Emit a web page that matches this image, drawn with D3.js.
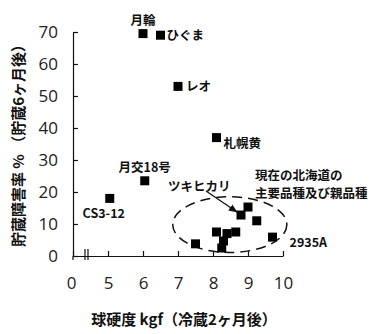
<!DOCTYPE html>
<html>
<head>
<meta charset="utf-8">
<script src="https://cdn.jsdelivr.net/npm/d3@7"></script>
<style>
  body { margin: 0; background: #fff; }
  svg { display: block; }
  .tick text { font-family: "Open Sans", sans-serif; font-size: 17px; fill: #222; }
  .lbl { font-family: "Noto Sans CJK JP", sans-serif; font-size: 12.5px; font-weight: bold; fill: #111; }
  .title { font-family: "Noto Sans CJK JP", sans-serif; font-size: 15px; font-weight: bold; fill: #111; }
</style>
</head>
<body>
<div id="chart"></div>
<script>
var names = ["月輪", "ひぐま", "レオ", "札幌黄", "月交18号", "CS3-12", "ツキヒカリ",
  "", "", "", "", "", "", "", "", "2935A"];
var hardness = [6.0, 6.5, 7.0, 8.1, 6.05, 5.05, 8.8, 9.0, 9.25, 8.1, 8.4, 8.65, 8.3, 8.25, 7.5, 9.7];
var disorder = [69.5, 69, 53, 37, 23.5, 18, 12.8, 15.3, 11, 7.5, 7, 7.5, 4.7, 2.5, 3.8, 5.9];
var xTicks = [0, 5, 6, 7, 8, 9, 10];
var yTicks = [0, 10, 20, 30, 40, 50, 60, 70];
var groupNote = ["現在の北海道の", "主要品種及び親品種"];
var xTitle = "球硬度 kgf（冷蔵2ヶ月後）";
var yTitle = "貯蔵障害率 % （貯蔵6ヶ月後）";

// label placement, relative to the point
var labelPos = {
  "月輪": {dx: 0, dy: -9, anchor: "middle"},
  "ひぐま": {dx: 6, dy: 5, anchor: "start"},
  "レオ": {dx: 8, dy: 5, anchor: "start"},
  "札幌黄": {dx: 7, dy: 10, anchor: "start"},
  "月交18号": {dx: 0, dy: -9, anchor: "middle"},
  "CS3-12": {dx: -6, dy: 20, anchor: "middle"},
  "ツキヒカリ": {dx: -73, dy: -24, anchor: "start"},
  "2935A": {dx: 17, dy: 10, anchor: "start"}
};

var margin = {top: 32, left: 73},
  width = 210,
  height = 224,
  size = 9;

var data = hardness.map(function (h, i) {
  return {name: names[i], x: h, y: disorder[i]};
});

var x = d3.scaleLinear().domain([0, 4, 10]).range([0, 0, width]);
var y = d3.scaleLinear().domain([0, 70]).range([height, 0]);

var svg = d3.select("#chart").append("svg")
  .attr("width", 373)
  .attr("height", 334);

var g = svg.append("g")
  .attr("transform", "translate(" + margin.left + "," + margin.top + ")");

// axes
g.append("g")
  .attr("class", "y axis")
  .call(d3.axisLeft(y).tickValues(yTicks).tickSizeInner(-5).tickSizeOuter(0).tickPadding(15));

g.append("g")
  .attr("class", "x axis")
  .attr("transform", "translate(0," + height + ")")
  .call(d3.axisBottom(x).tickValues(xTicks).tickSizeInner(-5).tickSizeOuter(0).tickPadding(21));

g.selectAll(".axis path, .axis line").attr("stroke", "#111").attr("stroke-width", 1.2);
g.select(".x.axis .tick text").attr("dx", -2);

// y axis stub below origin and axis break marks
g.append("line").attr("x1", 0).attr("x2", 0).attr("y1", height).attr("y2", height + 4)
  .attr("stroke", "#111").attr("stroke-width", 1.2);
[12, 15].forEach(function (bx) {
  g.append("line").attr("x1", bx).attr("x2", bx).attr("y1", height - 7).attr("y2", height + 4)
    .attr("stroke", "#111").attr("stroke-width", 1.2);
});

// dashed ellipse round the Hokkaido group
g.append("ellipse")
  .attr("cx", x(8.48))
  .attr("cy", y(9.8))
  .attr("rx", x(8.48 + 1.63) - x(8.48))
  .attr("ry", y(0) - y(8.7))
  .attr("fill", "none")
  .attr("stroke", "#111")
  .attr("stroke-width", 1.5)
  .attr("stroke-dasharray", "10,6");

// points
g.selectAll("rect.pt")
  .data(data)
  .enter().append("rect")
  .attr("class", "pt")
  .attr("x", function (d) { return x(d.x) - size / 2; })
  .attr("y", function (d) { return y(d.y) - size / 2; })
  .attr("width", size)
  .attr("height", size)
  .attr("fill", "#000");

// point labels
g.selectAll("text.lbl")
  .data(data.filter(function (d) { return d.name; }))
  .enter().append("text")
  .attr("class", "lbl")
  .attr("x", function (d) { return x(d.x) + labelPos[d.name].dx; })
  .attr("y", function (d) { return y(d.y) + labelPos[d.name].dy; })
  .attr("text-anchor", function (d) { return labelPos[d.name].anchor; })
  .text(function (d) { return d.name; });

// arrow to ツキヒカリ
var tk = data[6];
svg.append("defs").append("marker")
  .attr("id", "arr")
  .attr("viewBox", "0 0 10 10")
  .attr("refX", 9).attr("refY", 5)
  .attr("markerWidth", 7).attr("markerHeight", 7)
  .attr("orient", "auto")
  .append("path").attr("d", "M0,1L10,5L0,9Z").attr("fill", "#111");

g.append("line")
  .attr("x1", x(tk.x) - 35).attr("y1", y(tk.y) - 24)
  .attr("x2", x(tk.x) - 4).attr("y2", y(tk.y) - 3)
  .attr("stroke", "#111").attr("stroke-width", 1.3)
  .attr("marker-end", "url(#arr)");

// group note
g.append("text")
  .attr("class", "lbl")
  .attr("y", y(23.8))
  .selectAll("tspan")
  .data(groupNote)
  .enter().append("tspan")
  .attr("x", x(9.2))
  .attr("dy", function (d, i) { return i ? 18 : 0; })
  .text(function (d) { return d; });

// titles
svg.append("text")
  .attr("class", "title")
  .attr("x", 184)
  .attr("y", 325)
  .attr("text-anchor", "middle")
  .text(xTitle);

svg.append("text")
  .attr("class", "title")
  .attr("transform", "translate(24,142) rotate(-90)")
  .attr("text-anchor", "middle")
  .text(yTitle);
</script>
</body>
</html>
